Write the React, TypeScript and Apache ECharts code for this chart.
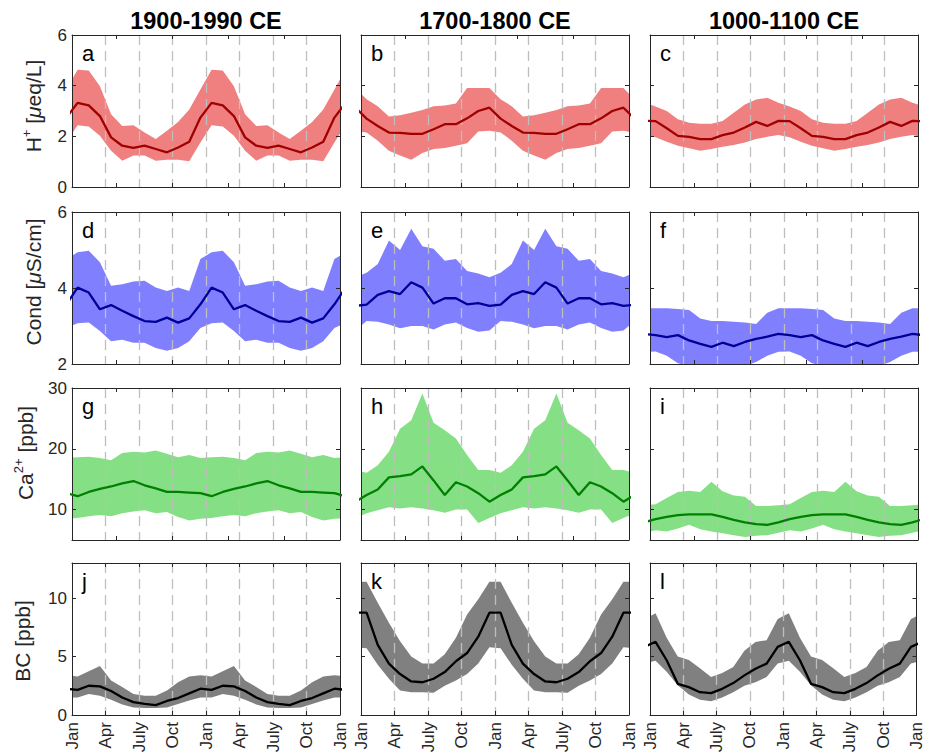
import React, { useEffect, useRef } from "react";
import * as echarts from "echarts";

// ---------- text ----------
const columnTitles = ["1900-1990 CE", "1700-1800 CE", "1000-1100 CE"];
const panelLetters = ["a", "b", "c", "d", "e", "f", "g", "h", "i", "j", "k", "l"];
const monthTickLabels = ["Jan", "Apr", "July", "Oct"];
const quarterTicks = [0, 3, 6, 9, 12, 15, 18, 21, 24];
const minorTickMonths = [4, 9, 14, 19];

// ---------- monthly climatologies (Jan..Dec), shown twice ----------
// H+ [µeq/L]
const aMean = [3.32, 3.22, 2.8, 1.96, 1.63, 1.54, 1.63, 1.5, 1.37, 1.56, 1.79, 2.74];
const aHigh = [4.63, 4.6, 3.98, 2.87, 2.41, 2.44, 2.15, 1.89, 2.22, 2.57, 3.06, 3.85];
const aLow = [2.44, 2.39, 2.02, 1.43, 1.04, 1.24, 1.24, 1.04, 1.08, 1.08, 1.02, 1.76];
const bMean = [2.7, 2.41, 2.15, 2.14, 2.1, 2.1, 2.28, 2.48, 2.48, 2.71, 3.0, 3.13];
const bHigh = [3.46, 3.19, 2.78, 2.83, 2.93, 3.04, 3.19, 3.22, 3.3, 3.91, 3.91, 3.91];
const bLow = [2.15, 1.83, 1.43, 1.24, 1.08, 1.34, 1.5, 1.54, 1.63, 1.73, 2.19, 2.22];
const cMean = [2.6, 2.32, 2.02, 1.98, 1.89, 1.89, 2.05, 2.15, 2.35, 2.57, 2.41, 2.61];
const cHigh = [3.18, 3.0, 2.67, 2.54, 2.5, 2.5, 2.61, 2.93, 3.26, 3.45, 3.52, 3.33];
const cLow = [1.96, 1.79, 1.63, 1.53, 1.43, 1.5, 1.59, 1.66, 1.76, 1.89, 1.98, 2.05];
// Cond [µS/cm]
const dMean = [4.01, 3.88, 3.44, 3.55, 3.4, 3.26, 3.13, 3.11, 3.22, 3.09, 3.2, 3.57];
const dHigh = [4.94, 4.98, 4.68, 4.06, 4.1, 4.17, 4.19, 4.01, 3.92, 4.01, 3.92, 4.76];
const dLow = [3.07, 3.09, 2.87, 2.6, 2.64, 2.56, 2.56, 2.42, 2.35, 2.42, 2.6, 2.95];
const eMean = [3.56, 3.82, 3.92, 3.84, 4.15, 4.01, 3.59, 3.73, 3.73, 3.57, 3.6, 3.53];
const eHigh = [4.4, 4.63, 5.25, 5.0, 5.56, 5.1, 5.03, 4.72, 4.76, 4.45, 4.38, 4.28];
const eLow = [3.13, 3.11, 3.04, 2.94, 3.0, 3.0, 2.91, 3.04, 3.09, 2.95, 2.85, 2.88];
const fMean = [2.76, 2.71, 2.76, 2.62, 2.53, 2.45, 2.56, 2.47, 2.58, 2.66, 2.72, 2.79];
const fHigh = [3.47, 3.47, 3.45, 3.42, 3.2, 3.13, 3.13, 3.11, 3.09, 3.05, 3.35, 3.47];
const fLow = [2.33, 2.22, 2.02, 1.95, 1.9, 1.88, 1.88, 1.9, 1.95, 2.05, 2.22, 2.32];
// Ca2+ [ppb]
const gMean = [12.2, 12.9, 13.4, 13.8, 14.3, 14.7, 14.0, 13.5, 12.9, 12.9, 12.8, 12.7];
const gHigh = [18.6, 18.7, 18.5, 18.1, 19.3, 19.5, 19.4, 19.7, 19.2, 18.6, 19.0, 18.5];
const gLow = [8.6, 8.9, 9.1, 8.9, 9.4, 9.7, 9.9, 9.4, 9.6, 8.8, 8.2, 8.5];
const hMean = [12.4, 13.3, 15.3, 15.5, 15.8, 17.1, 14.8, 12.4, 14.5, 13.8, 12.7, 11.3];
const hHigh = [16.05, 17.3, 19.5, 23.3, 24.7, 29.1, 24.3, 23.05, 21.7, 19.0, 16.5, 16.5];
const hLow = [9.4, 9.9, 10.4, 10.2, 10.4, 10.2, 9.9, 9.5, 10.0, 10.0, 7.8, 8.6];
const iMean = [8.45, 8.8, 9.1, 9.2, 9.2, 9.2, 8.8, 8.3, 7.9, 7.6, 7.5, 7.9];
const iHigh = [10.9, 11.9, 12.9, 13.1, 12.9, 14.6, 13.0, 12.3, 12.1, 10.6, 10.6, 10.7];
const iLow = [6.6, 6.4, 6.9, 7.5, 6.75, 6.4, 6.1, 5.8, 5.5, 5.7, 5.8, 6.2];
// BC [ppb]
const jMean = [2.15, 2.5, 2.45, 2.05, 1.5, 1.1, 0.95, 0.85, 1.2, 1.45, 1.85, 2.25];
const jHigh = [3.3, 3.75, 4.2, 2.95, 2.4, 1.8, 1.65, 1.65, 2.1, 2.8, 3.3, 3.4];
const jLow = [1.5, 1.8, 1.65, 1.3, 0.9, 0.65, 0.6, 0.6, 0.65, 0.95, 1.25, 1.5];
const kMean = [8.75, 6.0, 4.4, 3.5, 2.87, 2.8, 3.1, 3.67, 4.6, 5.3, 6.7, 8.75];
const kHigh = [11.4, 9.6, 7.9, 6.3, 5.0, 4.4, 4.4, 5.2, 6.6, 8.6, 9.9, 11.4];
const kLow = [5.7, 4.3, 3.1, 2.1, 1.95, 1.95, 1.9, 2.5, 2.95, 3.5, 4.4, 5.8];
const lMean = [6.26, 4.68, 2.67, 2.38, 1.95, 1.87, 2.24, 2.73, 3.39, 3.96, 4.39, 5.83];
const lHigh = [8.7, 6.6, 5.0, 4.7, 4.0, 3.25, 3.6, 4.1, 5.5, 6.25, 6.4, 8.2];
const lLow = [4.65, 3.7, 2.55, 1.75, 1.3, 1.18, 1.5, 1.95, 2.5, 2.8, 3.25, 4.4];

const panelMeans = [aMean, bMean, cMean, dMean, eMean, fMean, gMean, hMean, iMean, jMean, kMean, lMean];
const panelHighs = [aHigh, bHigh, cHigh, dHigh, eHigh, fHigh, gHigh, hHigh, iHigh, jHigh, kHigh, lHigh];
const panelLows = [aLow, bLow, cLow, dLow, eLow, fLow, gLow, hLow, iLow, jLow, kLow, lLow];

// y-axis ranges per row
const rowMin = [0, 2, 5, 0];
const rowMax = [6, 6, 30, 13];
const rowStep = [2, 2, 10, 5];

// ---------- styling ----------
const FONT = "Liberation Sans, Arial, Helvetica, sans-serif";
const AX = "#262626";
const bandColors = ["#F08080", "#8080FF", "#85E085", "#808080"];
const lineColors = ["#A00000", "#000099", "#008000", "#000000"];
const colLeft = [72, 361, 650];
const rowTop = [35, 212, 388, 563];
const PW = 268;
const PH = 152;
const yLabelX = [33, 33, 25, 22];
const yLabelY = [106, 282, 453, 641];
const yLabelText = [
  "{n|H}{s|+}{n| [}{i|\u03bc}{n|eq/L]}",
  "{n|Cond [}{i|\u03bc}{n|S/cm]}",
  "{n|Ca}{s|2+}{n| [ppb]}",
  "{n|BC [ppb]}",
];

// month positions: mid-months from Dec of the previous year to Jan of the next
const toPairs = (vals: number[]) =>
  Array.from({ length: 26 }, (_, k) => [k - 0.5, vals[(k + 11) % 12]]);

function buildOption() {
  const grid: any[] = [];
  const xAxis: any[] = [];
  const yAxis: any[] = [];
  const series: any[] = [];
  const graphic: any[] = [];
  const extraX: any[] = [];
  const topX: any[] = [];
  const rightY: any[] = [];

  for (let r = 0; r < 4; r++) {
    for (let c = 0; c < 3; c++) {
      const i = r * 3 + c;
      grid.push({ left: colLeft[c], top: rowTop[r], width: PW, height: PH });
      const lineAx = { show: true, onZero: false, lineStyle: { color: AX, width: 1 } };
      xAxis.push({
        type: "value",
        gridIndex: i,
        position: "bottom",
        min: 0,
        max: 24,
        interval: 3,
        z: 3,
        axisLine: lineAx,
        axisTick: r === 3 ? { show: true, inside: true, length: 4, lineStyle: { color: AX } } : { show: false },
        axisLabel:
          r === 3
            ? {
                show: true,
                rotate: 90,
                margin: 7,
                fontSize: 17,
                color: AX,
                fontFamily: FONT,
                formatter: (v: number) => monthTickLabels[Math.round(v / 3) % 4],
              }
            : { show: false },
        splitLine: {
          show: true,
          showMinLine: false,
          showMaxLine: false,
          lineStyle: { color: "#BEBEBE", type: [10, 6], width: 1.3 },
        },
      });
      topX.push({
        type: "value",
        gridIndex: i,
        position: "top",
        min: 0,
        max: 24,
        interval: 3,
        z: 3,
        axisLine: lineAx,
        axisTick: {
          show: true,
          inside: true,
          length: 4,
          customValues: r === 3 ? quarterTicks : minorTickMonths,
          lineStyle: { color: AX },
        },
        axisLabel: { show: false },
        splitLine: { show: false },
      });
      if (r < 3) {
        extraX.push({
          type: "value",
          gridIndex: i,
          position: "bottom",
          min: 0,
          max: 24,
          interval: 3,
          z: 3,
          axisLine: { show: false, onZero: false },
          axisTick: { show: true, inside: true, length: 4, customValues: minorTickMonths, lineStyle: { color: AX } },
          axisLabel: { show: false },
          splitLine: { show: false },
        });
      }
      const yScale: any = { min: rowMin[r], max: rowMax[r] };
      if (r === 2) {
        yScale.minInterval = rowStep[r];
        yScale.maxInterval = rowStep[r];
      } else {
        yScale.interval = rowStep[r];
      }
      yAxis.push({
        type: "value",
        gridIndex: i,
        position: "left",
        ...yScale,
        z: 3,
        axisLine: lineAx,
        axisTick: { show: true, inside: true, length: 4, lineStyle: { color: AX } },
        axisLabel:
          c === 0
            ? {
                show: true,
                margin: 5,
                fontSize: 17,
                color: AX,
                fontFamily: FONT,
                showMinLabel: r === 2 ? false : undefined,
                showMaxLabel: r === 3 ? false : undefined,
              }
            : { show: false },
        splitLine: { show: false },
      });
      rightY.push({
        type: "value",
        gridIndex: i,
        position: "right",
        ...yScale,
        z: 3,
        axisLine: lineAx,
        axisTick: { show: true, inside: true, length: 4, lineStyle: { color: AX } },
        axisLabel: { show: false },
        splitLine: { show: false },
      });

      // band: filled to the upper bound, masked in white below the lower bound
      series.push({
        type: "line",
        xAxisIndex: i,
        yAxisIndex: i,
        data: toPairs(panelHighs[i]),
        symbol: "none",
        silent: true,
        z: 1,
        lineStyle: { width: 0, opacity: 0 },
        areaStyle: { color: bandColors[r], opacity: 1, origin: "start" },
      });
      series.push({
        type: "line",
        xAxisIndex: i,
        yAxisIndex: i,
        data: toPairs(panelLows[i]),
        symbol: "none",
        silent: true,
        z: 1,
        lineStyle: { width: 0, opacity: 0 },
        areaStyle: { color: "#FFFFFF", opacity: 1, origin: "start" },
      });
      series.push({
        type: "line",
        xAxisIndex: i,
        yAxisIndex: i,
        data: toPairs(panelMeans[i]),
        symbol: "none",
        silent: true,
        z: 4,
        lineStyle: { color: lineColors[r], width: 2.3 },
      });

      graphic.push({
        type: "text",
        x: colLeft[c] + 10,
        y: rowTop[r] + 18,
        z: 10,
        style: {
          text: panelLetters[i],
          fill: "#000",
          fontSize: 22,
          fontFamily: FONT,
          align: "left",
          verticalAlign: "middle",
        },
      });
    }
  }

  for (let c = 0; c < 3; c++) {
    graphic.push({
      type: "text",
      x: colLeft[c] + PW / 2,
      y: 21,
      z: 10,
      style: {
        text: columnTitles[c],
        fill: "#000",
        fontSize: 23.5,
        fontWeight: "bold",
        fontFamily: FONT,
        align: "center",
        verticalAlign: "middle",
      },
    });
  }
  for (let r = 0; r < 4; r++) {
    graphic.push({
      type: "text",
      x: yLabelX[r],
      y: yLabelY[r],
      rotation: Math.PI / 2,
      z: 10,
      style: {
        text: yLabelText[r],
        fill: AX,
        fontSize: 21,
        fontFamily: FONT,
        align: "center",
        verticalAlign: "middle",
        rich: {
          n: { fontSize: 21, fontFamily: FONT, fill: AX, lineHeight: 26, verticalAlign: "middle" },
          i: { fontSize: 21, fontFamily: FONT, fill: AX, fontStyle: "italic", lineHeight: 26, verticalAlign: "middle" },
          s: { fontSize: 13, fontFamily: FONT, fill: AX, lineHeight: 14, verticalAlign: "top" },
        },
      },
    });
  }

  return {
    animation: false,
    backgroundColor: "#FFFFFF",
    grid,
    xAxis: [...xAxis, ...topX, ...extraX],
    yAxis: [...yAxis, ...rightY],
    series,
    graphic,
  };
}

export default function App() {
  const ref = useRef<HTMLDivElement>(null);
  useEffect(() => {
    document.body.style.margin = "0";
    if (!ref.current) return;
    const chart = echarts.init(ref.current, undefined, { renderer: "svg" });
    chart.setOption(buildOption() as any);
    return () => chart.dispose();
  }, []);
  return <div ref={ref} style={{ width: 925, height: 756 }} />;
}
